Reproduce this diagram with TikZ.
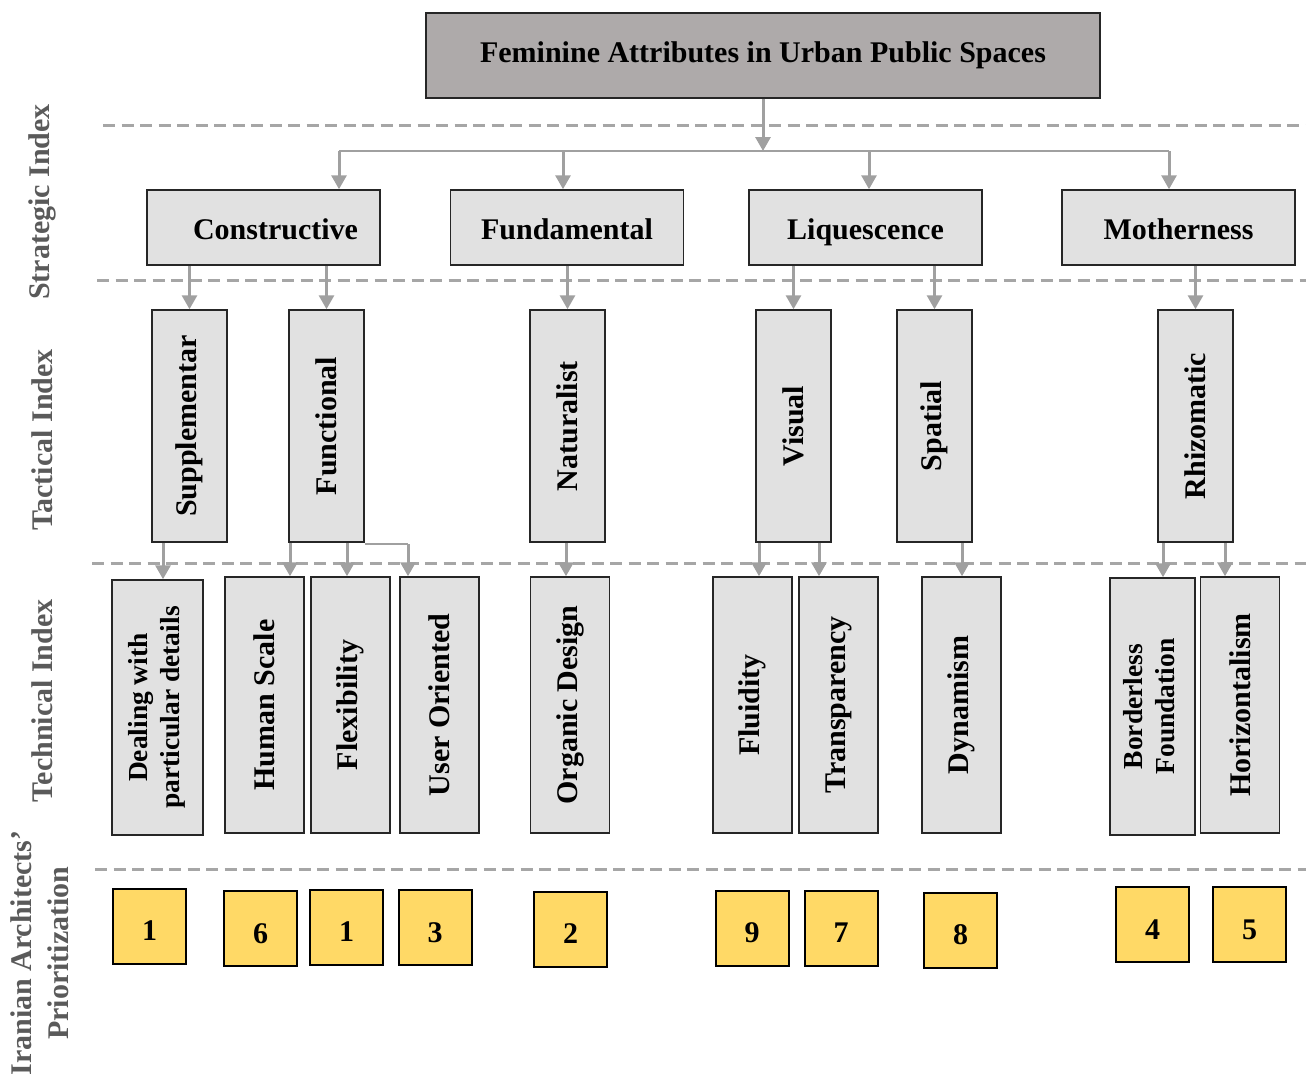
\documentclass[tikz,border=0pt]{standalone}
\usepackage{fontspec}
\usepackage{graphicx}
\setmainfont{Liberation Serif}
\usetikzlibrary{arrows.meta,calc}
\definecolor{boxgray}{HTML}{E1E1E1}
\definecolor{titlegray}{HTML}{AEAAAA}
\definecolor{linegray}{HTML}{A0A0A0}
\definecolor{dashgray}{HTML}{A6A6A6}
\definecolor{labgray}{HTML}{5A5A5A}
\definecolor{boxline}{HTML}{262626}
\definecolor{gold}{HTML}{FFD966}
\begin{document}
\begin{tikzpicture}[x=1pt,y=-1pt,
  big/.style={font=\fontsize{30}{34}\selectfont\bfseries},
  small/.style={font=\fontsize{27.5}{32}\selectfont\bfseries},
  box/.style={draw=boxline,line width=1.5pt,fill=boxgray,inner sep=0pt,big},
  hbox/.style={box,minimum width=233pt,minimum height=75pt,text height=23pt,text depth=0pt},
  tacbox/.style={box,minimum width=75pt,minimum height=232pt},
  techbox/.style={box,minimum width=79pt,minimum height=256pt},
  ybox/.style={draw=black,line width=2pt,fill=gold,inner sep=0pt,minimum width=73pt,minimum height=75pt,text height=29pt,text depth=0pt,big},
  lab/.style={rotate=90,text=labgray,big,inner sep=0pt,align=center},
  sep/.style={draw=dashgray,line width=3pt,dash pattern=on 12pt off 6.5pt},
  arr/.style={draw=linegray,line width=3pt,-{Triangle[length=14pt,width=15pt]}},
  busline/.style={draw=linegray,line width=1.6pt}]
\useasboundingbox (0,0) rectangle (1306,1077);

% separators
\draw[sep] (103,125) -- (1306,125);
\draw[sep] (97,280) -- (1306,280);
\draw[sep] (92,563) -- (1306,563);
\draw[sep] (95,869) -- (1306,869);

% left labels
\node[lab] (lstr) at (42,202) {Strategic Index};
\node[lab] (ltac) at (42,440) {Tactical Index};
\node[lab] (ltec) at (42,701) {Technical Index};
\node[lab] (lira) at (40,953) {Iranian Architects’\\[3pt]Prioritization};

% title
\node[box,fill=titlegray,minimum width=674pt,minimum height=85pt] (title) at (763,55.5) {Feminine Attributes in Urban Public Spaces};

% strategic
\node[hbox] (cons) at (263.5,227.5) {\hspace*{24pt}Constructive};
\node[hbox] (fund) at (567,227.5) {Fundamental};
\node[hbox] (liq) at (865.5,227.5) {Liquescence};
\node[hbox] (moth) at (1178.5,227.5) {Motherness};

% tactical
\node[tacbox] (sup) at (189.5,426) {\rotatebox{90}{Supplementar}};
\node[tacbox] (func) at (326.5,426) {\rotatebox{90}{Functional}};
\node[tacbox] (nat) at (567.5,426) {\rotatebox{90}{Naturalist}};
\node[tacbox] (vis) at (793.5,426) {\rotatebox{90}{Visual}};
\node[tacbox] (spa) at (934.5,426) {\rotatebox{90}{Spatial}};
\node[tacbox] (rhi) at (1195.5,426) {\rotatebox{90}{Rhizomatic}};

% technical
\node[techbox,minimum width=91pt,minimum height=255pt,small] (deal) at (157.5,707.5) {\rotatebox{90}{\begin{tabular}{@{}c@{}}Dealing with\\particular details\end{tabular}}};
\node[techbox] (hum) at (264.5,705) {\rotatebox{90}{Human Scale}};
\node[techbox] (flex) at (350.5,705) {\rotatebox{90}{Flexibility}};
\node[techbox] (user) at (439.5,705) {\rotatebox{90}{User Oriented}};
\node[techbox] (org) at (570,705) {\rotatebox{90}{Organic Design}};
\node[techbox] (flu) at (752.5,705) {\rotatebox{90}{Fluidity}};
\node[techbox] (tra) at (838.5,705) {\rotatebox{90}{Transparency}};
\node[techbox] (dyn) at (961.5,705) {\rotatebox{90}{Dynamism}};
\node[techbox,minimum width=85pt,minimum height=257pt,small] (bor) at (1152.5,706.5) {\rotatebox{90}{\begin{tabular}{@{}c@{}}Borderless\\Foundation\end{tabular}}};
\node[techbox] (hor) at (1240,705) {\rotatebox{90}{Horizontalism}};

% prioritization
\node[ybox] (n1) at (149.5,926) {1};
\node[ybox] (n6) at (260.5,928.5) {6};
\node[ybox] (n1b) at (346.5,927) {1};
\node[ybox] (n3) at (435,927.5) {3};
\node[ybox] (n2) at (570.5,929) {2};
\node[ybox] (n9) at (752,928) {9};
\node[ybox] (n7) at (841,928) {7};
\node[ybox] (n8) at (960.5,930) {8};
\node[ybox] (n4) at (1152.5,924.5) {4};
\node[ybox] (n5) at (1249.5,924.5) {5};

% title to strategic
\coordinate (bus) at (763,151);
\coordinate (b1) at (339,151);
\coordinate (b2) at (563,151);
\coordinate (b3) at (869,151);
\coordinate (b4) at (1169,151);
\draw[busline] (b1) -- (b4);
\draw[arr] (title.south) -- (bus);
\draw[arr] (b1) -- (b1 |- cons.north);
\draw[arr] (b2) -- (b2 |- fund.north);
\draw[arr] (b3) -- (b3 |- liq.north);
\draw[arr] (b4) -- (b4 |- moth.north);

% strategic to tactical
\draw[arr] (cons.south -| sup) -- (sup.north);
\draw[arr] (cons.south -| func) -- (func.north);
\draw[arr] (fund.south -| nat) -- (nat.north);
\draw[arr] (liq.south -| vis) -- (vis.north);
\draw[arr] (liq.south -| spa) -- (spa.north);
\draw[arr] (moth.south -| rhi) -- (rhi.north);

% tactical to technical
\coordinate (xa) at (163,560);
\coordinate (xb) at (290,560);
\coordinate (xc) at (347,560);
\coordinate (fe) at (408,544);
\coordinate (xd) at (566,560);
\coordinate (xe) at (759,560);
\coordinate (xf) at (819,560);
\coordinate (xg) at (962,560);
\coordinate (xh) at (1163,560);
\coordinate (xi) at (1225,560);
\draw[arr] (sup.south -| xa) -- (deal.north -| xa);
\draw[arr] (func.south -| xb) -- (hum.north -| xb);
\draw[arr] (func.south -| xc) -- (flex.north -| xc);
\draw[busline] (func.south east |- fe) -- (fe);
\draw[arr] (fe) -- (user.north -| fe);
\draw[arr] (nat.south -| xd) -- (org.north -| xd);
\draw[arr] (vis.south -| xe) -- (flu.north -| xe);
\draw[arr] (vis.south -| xf) -- (tra.north -| xf);
\draw[arr] (spa.south -| xg) -- (dyn.north -| xg);
\draw[arr] (rhi.south -| xh) -- (bor.north -| xh);
\draw[arr] (rhi.south -| xi) -- (hor.north -| xi);
\end{tikzpicture}
\end{document}
